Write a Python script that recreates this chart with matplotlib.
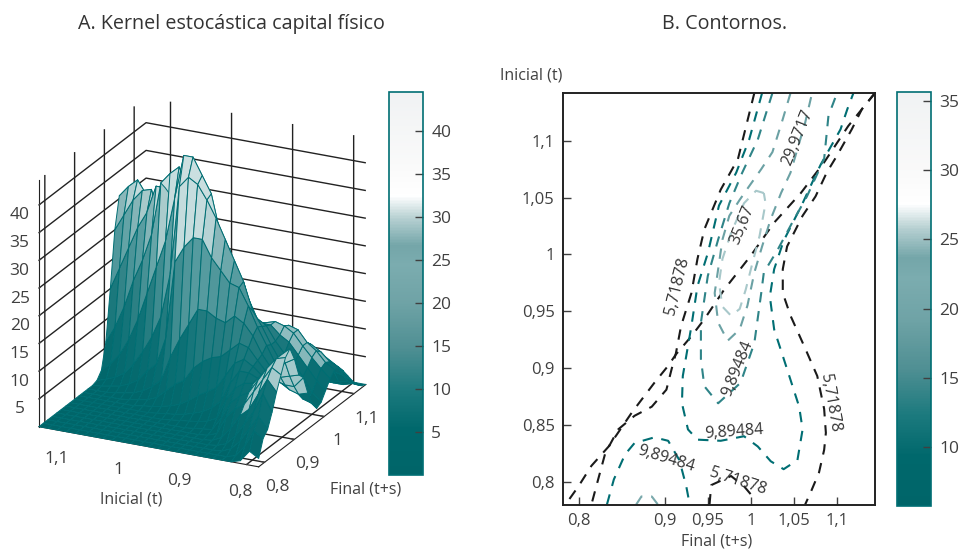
import numpy as np
import matplotlib
matplotlib.use('Agg')
import matplotlib.pyplot as plt
from matplotlib.colors import LinearSegmentedColormap, Normalize
from matplotlib.cm import ScalarMappable

plt.rcParams['font.family'] = ['Open Sans', 'DejaVu Sans']

# ejes de la malla
final_vals = [.78, .795, .81, .825, .84, .855, .87, .885, .90, .915, .93, .945, .96, .975, .99,
              1.005, 1.02, 1.035, 1.05, 1.065, 1.08, 1.095, 1.11, 1.125, 1.14]
inicial_vals = [1.14, 1.125, 1.11, 1.095, 1.08, 1.065, 1.05, 1.035, 1.02, 1.005, .99, .975, .96,
                .945, .93, .915, .90, .885, .87, .855, .84, .825, .81, .795, .78]

# densidad, una fila por cada valor de inicial_vals
densidad = [
    [0,0,0,0,0,0,0,0,0,0,0,0,0,.3,1.5,6,15,25,30.5,30.5,26,21,14,8.5,4],
    [0,0,0,0,0,0,0,0,0,0,0,0,.2,.8,3,9,19,28,32.5,31,25,17,9.5,4.5,1.5],
    [0,0,0,0,0,0,0,0,0,0,0,0,.5,1.5,5,13,23,31,34,29,18,10,4.5,1.5,.5],
    [0,0,0,0,0,0,0,0,0,0,0,.2,.8,2.5,8,18,27,33,31.5,21,12.5,6,2,.5,0],
    [0,0,0,0,0,0,0,0,0,0,0,.5,1.5,4.5,12,22,30,33.5,24,15,8,3,1,.3,0],
    [0,0,0,0,0,0,0,0,0,0,.2,.8,2.5,7,17,27,35,28,17,11,4.5,1.2,.5,0,0],
    [0,0,0,0,0,0,0,0,0,0,.5,1.5,4.5,10,22,36.5,35,21,10,4.5,1.5,.3,0,0,0],
    [0,0,0,0,0,0,0,0,0,.3,.8,2.5,6,14,27,38.5,33,17,8,3,.8,0,0,0,0],
    [0,0,0,0,0,0,0,0,0,.5,1.5,4,11,22,35,40,27,12,5,1.5,.3,0,0,0,0],
    [0,0,0,0,0,0,0,0,.2,.8,3,8.5,25,38,43,36,19,7,2.5,.6,0,0,0,0,0],
    [0,0,0,0,0,0,0,0,.4,1.2,4.5,12,28,40,43,34,17,6,2.5,.6,0,0,0,0,0],
    [0,0,0,0,0,0,0,.2,.6,1.8,5.5,15,30,39,40,31,15,6.5,2.5,.8,0,0,0,0,0],
    [0,0,0,0,0,0,0,.4,.9,2.8,8,18,30,36.5,37,26,13,7,3.5,1.2,0,0,0,0,0],
    [0,0,0,0,0,0,0,.6,1.4,4,9.5,18,27,33.5,30,21,12.5,8,4.5,2,.5,0,0,0,0],
    [0,0,0,0,0,0,.2,.8,2,5,10.5,17,25,30,27,19,13,9,5.5,3,.8,0,0,0,0],
    [0,0,0,0,0,0,.4,1.2,3,6,11,16.5,23,26.5,23,17,13,10,6.5,4,1.5,.4,0,0,0],
    [0,0,0,0,0,.2,.6,2,4.5,8.5,12.5,18,22.5,23,19.5,15.5,13.5,11,8,6,2.5,.7,0,0,0],
    [0,0,0,0,.2,.8,3,5.5,8,11,14,17,19.5,18,16,14.5,14,12,9,6.8,3.5,1,0,0,0],
    [0,0,0,.2,1,4,6,8,10.5,12,13.5,15,16,15.5,15,14.5,14.5,13,10,7.5,5,1.5,.3,0,0],
    [0,0,.1,.8,3,5.8,7.5,9.2,10.5,11,11.5,12,13,12.5,12.5,13,14,13.5,10.5,8,6,2.2,.5,0,0],
    [0,0,.8,2.5,5.5,7,8.5,9.5,9.8,9.6,9.6,9.8,9.9,9.9,10.5,12,13,13,10.5,8,6,2.8,.8,0,0],
    [0,.5,2.5,5,7,9.5,11,11.5,11,10,8.5,7.5,7.5,8,9,10,11,11,10,8,6,3.2,1,0,0],
    [.5,2.5,5,7.5,10,12,13.5,13.5,12,10,8,6.5,5.9,6,7,8,9.2,9.8,9,7.5,5.9,3.5,1.2,0,0],
    [2.5,5.5,7.5,11,13,14.5,15.5,15.5,13.5,10.5,8,6,4.5,3.8,4.5,6,7.5,8,7.5,6.5,5,3.2,1.5,.5,0],
    [1.5,4.5,5.5,8,11,13.5,16,17,14.5,11,9.9,6.5,4,2.5,3,4.5,6,7,6.8,5.5,4,2.5,1.2,.4,0],
]

# etiquetas de ejes
ticks_final = [.8, .9, 1, 1.1]
ticks_inicial = [.8, .9, 1, 1.1]
ticks_z = [5, 10, 15, 20, 25, 30, 35, 40]
ticks_b_x = [.8, .9, .95, 1, 1.05, 1.1]
ticks_b_y = [.8, .85, .9, .95, 1, 1.05, 1.1]
ticks_cb_b = [10, 15, 20, 25, 30, 35]

# contornos del panel B: (final, inicial)
c57_a_f = [1.004, .985, .965, .946, .938, .931, .919, .913, .908, .902, .885, .865, .846, .831, .821, .815]
c57_a_i = [1.142, 1.084, 1.057, 1.022, .996, .966, .937, .913, .899, .881, .866, .858, .846, .825, .797, .78]
c57_b_f = [1.144, 1.113, 1.085, 1.058, 1.027, 1.0, .969, .946, .931, .913, .904, .888, .862, .835, .815, .80, .785]
c57_b_i = [1.142, 1.113, 1.081, 1.054, 1.028, .999, .969, .943, .928, .912, .902, .887, .861, .831, .814, .796, .78]
c57_c_f = [1.144, 1.129, 1.117, 1.1, 1.088, 1.075, 1.06, 1.042, 1.037, 1.037, 1.046, 1.062, 1.077, 1.085, 1.087, 1.085, 1.079, 1.069, 1.063]
c57_c_i = [1.142, 1.128, 1.11, 1.087, 1.072, 1.051, 1.034, 1.007, .987, .966, .946, .919, .893, .864, .843, .828, .808, .79, .78]
c57_d_f = [.952, .954, .977, .992, 1.002]
c57_d_i = [.78, .797, .805, .796, .787]
c99_a_f = [1.013, .998, .983, .963, .95, .938, .931, .921, .92, .927, .938, .965, .992, 1.008, 1.023, 1.038,
           1.054, 1.06, 1.056, 1.042, 1.027, 1.022, 1.027, 1.038, 1.06, 1.071, 1.081, 1.104, 1.112, 1.119]
c99_a_i = [1.142, 1.101, 1.072, 1.043, 1.001, .972, .937, .893, .869, .846, .837, .836, .84, .831, .818, .811,
           .819, .846, .866, .899, .934, .963, .987, 1.012, 1.045, 1.063, 1.079, 1.11, 1.128, 1.142]
c99_b_f = [.833, .841, .854, .865, .888, .904, .917, .925, .929]
c99_b_i = [.78, .802, .824, .834, .839, .836, .819, .796, .78]
c20_a_f = [1.025, 1.008, .99, .975, .962, .95, .942, .942, .946, .962, .988, 1.004, 1.012, 1.015, 1.031, 1.048, 1.065, 1.085, 1.09, 1.1]
c20_a_i = [1.142, 1.101, 1.072, 1.045, 1.013, .981, .94, .908, .884, .869, .887, .922, .966, .984, 1.004, 1.028, 1.051, 1.084, 1.122, 1.142]
c20_b_f = [.867, .873, .885, .892]
c20_b_i = [.78, .787, .787, .78]
c30_f = [1.046, 1.037, 1.025, 1.012, .998, .987, .975, .967, .958, .962, .973, .987, .996, 1.004, 1.013, 1.023, 1.035, 1.046, 1.063, 1.071]
c30_i = [1.142, 1.119, 1.09, 1.075, 1.06, 1.048, 1.034, 1.013, .966, .94, .924, .934, .955, .984, 1.007, 1.031, 1.054, 1.072, 1.116, 1.142]
c36_f = [1.015, 1.006, .992, .977, .967, .963, .967, .977, .987, .994, 1.002, 1.01, 1.017, 1.015]
c36_i = [1.054, 1.056, 1.045, 1.019, .996, .975, .954, .946, .952, .969, .993, 1.016, 1.045, 1.054]

teal = '#006e73'
gris = '#404040'
mapa = LinearSegmentedColormap.from_list('kernel', [
    (0, '#006569'), (.12, '#00686c'), (.22, '#1c7a7e'), (.33, '#4f8f93'), (.45, '#6fa3a6'),
    (.55, '#7bacaf'), (.6, '#74a6a9'), (.67, '#b5cfd1'), (.73, '#ffffff'), (.8, '#fafafa'), (1, '#f0f2f3')])
# la malla del original es mas densa: las caras se ven mas oscuras
mapa_sup = LinearSegmentedColormap.from_list('superficie', [
    (0, '#006569'), (.22, '#0d7176'), (.33, '#2a7f83'), (.45, '#4a9397'), (.55, '#5a9ea2'),
    (.67, '#93bcbe'), (.73, '#c4dcdd'), (1, '#cfe0e1')])

def fmt(v):
    return f'{v:g}'.replace('.', ',')

def barra(pos, vmin, vmax, ticks):
    cax = fig.add_axes(pos)
    cb = fig.colorbar(ScalarMappable(Normalize(vmin, vmax), mapa), cax=cax)
    cb.outline.set_edgecolor(teal)
    cb.outline.set_linewidth(1.2)
    cb.set_ticks(ticks, labels=[fmt(t) for t in ticks])
    cax.tick_params(direction='in', length=6, width=1, color=gris, labelcolor=gris, labelsize=12.5, pad=6)
    return cb

W, H = 959, 550
fig = plt.figure(figsize=(W / 100, H / 100), dpi=100)

# panel A, superficie
ax = fig.add_axes([-.056, -.045, .52, 1.04], projection='3d', proj_type='ortho')
ax.set_box_aspect((1, 1, 1.09), zoom=.85)
ax.view_init(elev=22, azim=-154)
F, I = np.meshgrid(final_vals, inicial_vals)
Z = np.array(densidad)

# color por celda; el flanco frontal y la loma de atras se ven casi como alambre
celda = (Z[:-1, :-1] + Z[1:, :-1] + Z[:-1, 1:] + Z[1:, 1:]) / 4
caras = mapa_sup(Normalize(0, 44.5)(celda))
fc_f, fc_i = F[:-1, :-1], I[:-1, :-1]
frente = (fc_i <= .84) & (fc_f >= .84) & (fc_f <= .93) & (celda >= 3)
loma = (fc_i <= .9) & (fc_f >= 1.005) & (celda >= 8)
caras[frente, :3] = caras[frente, :3] * .4 + .6
caras[loma, :3] = caras[loma, :3] * .5 + .5
colores = np.ones(Z.shape + (4,))
colores[:-1, :-1] = caras
ax.plot_surface(F, I, Z, facecolors=colores, rstride=1, cstride=1,
                edgecolor=teal, linewidth=.7, shade=False, antialiased=True)
ax.set_xlim(.78, 1.14, view_margin=0)
ax.set_ylim(.78, 1.14, view_margin=0)
ax.set_zlim(0, 44.6, view_margin=0)
ax.set_xticks(ticks_final, labels=[fmt(t) for t in ticks_final])
ax.set_yticks(ticks_inicial, labels=[fmt(t) for t in ticks_inicial])
ax.set_zticks(ticks_z, labels=[fmt(t) for t in ticks_z])
for axis in (ax.xaxis, ax.yaxis, ax.zaxis):
    axis.set_pane_color((1, 1, 1, 0))
    axis.pane.set_edgecolor('none')
    axis.line.set_color('#222222')
    axis._axinfo['grid'].update(color='#222222', linewidth=1)
    axis._axinfo['tick'].update(inward_factor=0, outward_factor=.2)
ax.tick_params(colors=gris, labelsize=12.5, pad=3)
fig.text(231 / W, 1 - 24 / H, 'A. Kernel estocástica capital físico', ha='center', va='center', fontsize=14.2, color='#333333')
fig.text(131 / W, 1 - 500 / H, 'Inicial (t)', ha='center', va='center', fontsize=11.5, color=gris)
fig.text(366 / W, 1 - 489 / H, 'Final (t+s)', ha='center', va='center', fontsize=11.5, color=gris)
barra([389 / W, 1 - 475 / H, 34 / W, 383 / H], 0, 44.5, ticks_z)

# panel B, contornos
bx = fig.add_axes([563 / W, 1 - 505 / H, 312 / W, 412 / H])
estilo = dict(ls=(0, (5, 4.2)), lw=1.5)
for cf, ci, col in [(c57_a_f, c57_a_i, '#1a1a1a'), (c57_b_f, c57_b_i, '#1a1a1a'), (c57_c_f, c57_c_i, '#1a1a1a'),
                    (c57_d_f, c57_d_i, '#1a1a1a'), (c99_a_f, c99_a_i, '#006e73'), (c99_b_f, c99_b_i, '#006e73'),
                    (c20_a_f, c20_a_i, '#2f8488'), (c20_b_f, c20_b_i, '#7aa9ac'), (c30_f, c30_i, '#6ba1a4'),
                    (c36_f, c36_i, '#a8c8ca')]:
    bx.plot(cf, ci, color=col, **estilo)
for txt, fx, iy, rot in [('5,71878', .915, .972, 76), ('29,9717', 1.054, 1.103, 68), ('35,67', .99, 1.026, 68),
                         ('9,89484', .985, .9, 68), ('5,71878', 1.092, .869, -80), ('9,89484', .981, .844, 4),
                         ('9,89484', .902, .82, -17), ('5,71878', .985, .8, -18)]:
    bx.text(fx, iy, txt, rotation=rot, rotation_mode='anchor', ha='center', va='center', fontsize=11.5, color='#333333')
bx.set_xlim(.782, 1.144)
bx.set_ylim(.7795, 1.142)
bx.set_xticks(ticks_b_x, labels=[fmt(t) for t in ticks_b_x])
bx.set_yticks(ticks_b_y, labels=[fmt(t) for t in ticks_b_y])
bx.tick_params(direction='in', length=6, width=1, color=gris, labelcolor=gris, labelsize=12, pad=6)
for s in bx.spines.values():
    s.set_linewidth(1.4)
    s.set_color('#222222')
fig.text(725 / W, 1 - 24 / H, 'B. Contornos.', ha='center', va='center', fontsize=14.2, color='#333333')
fig.text(531 / W, 1 - 76 / H, 'Inicial (t)', ha='center', va='center', fontsize=11.5, color=gris)
fig.text(717 / W, 1 - 541 / H, 'Final (t+s)', ha='center', va='center', fontsize=11.5, color=gris)
barra([897 / W, 1 - 506 / H, 34 / W, 414 / H], 5.72, 35.67, ticks_cb_b)

fig.savefig('out.png', dpi=100)
